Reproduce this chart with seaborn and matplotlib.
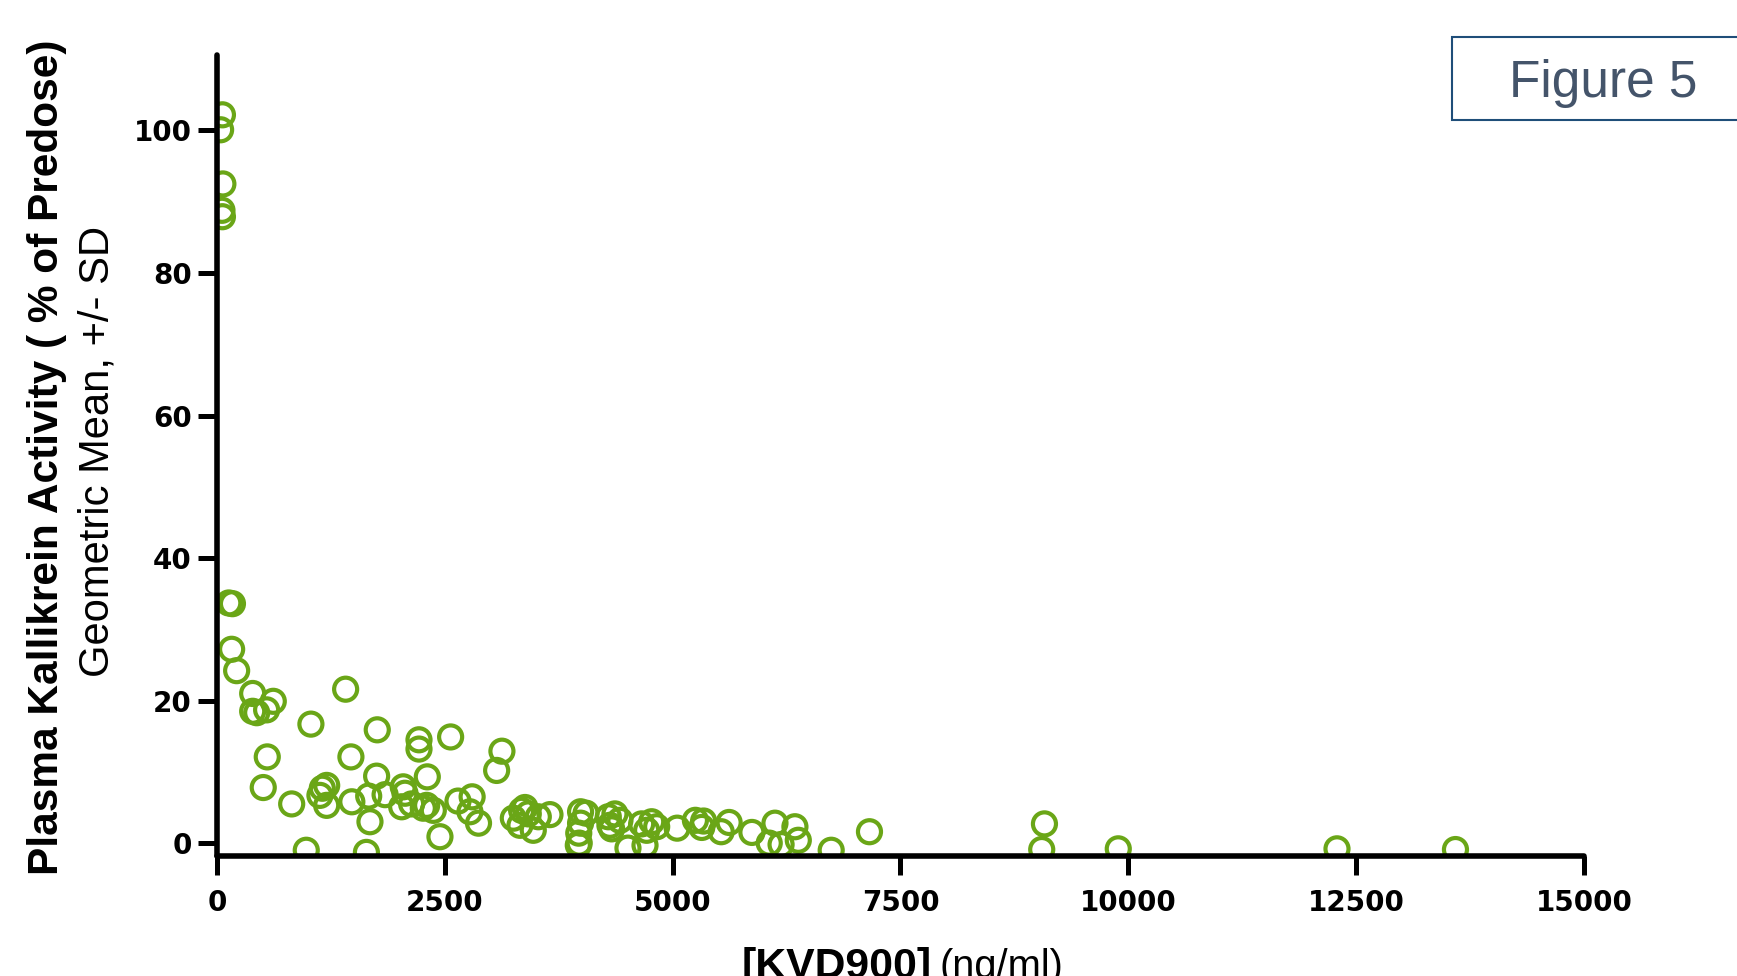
import matplotlib
matplotlib.use("Agg")
import matplotlib.pyplot as plt
from matplotlib import font_manager as fm
from matplotlib.patches import Rectangle
import seaborn as sns

# [KVD900] (ng/ml) vs plasma kallikrein activity (% of predose)
kvd900 = [60, 40, 65, 55, 60,
          130, 170, 161, 216, 392, 618, 392, 436, 545, 1412, 1031, 1759, 2217, 2217,
          2564, 3127, 3069, 552, 508, 820, 1470, 1752, 2308,
          1156, 1204, 1130, 1204, 1480, 1665, 1679, 1845,
          2044, 2063, 2027, 2136, 2301, 2374, 2264, 2447, 2645, 2800, 2776, 2870,
          980, 1640,
          3252, 3343, 3416, 3325, 3471, 3526, 3654, 3380,
          3990, 4050, 3990, 3970, 3975, 3965,
          4294, 4367, 4331, 4422, 4312, 4510,
          4660, 4770, 4715, 4825, 4697, 5050,
          5250, 5340, 5320, 5533, 5620, 5870,
          6060, 6123, 6190, 6342, 6379, 6740, 7160,
          9080, 9050, 9890, 12290, 13590]
activity = [102.2, 100.1, 92.5, 88.8, 87.9,
            33.7, 33.6, 27.2, 24.2, 21.0, 19.9, 18.5, 18.3, 18.7, 21.6, 16.7, 15.9, 14.5, 13.2,
            14.9, 12.9, 10.2, 12.1, 7.8, 5.5, 12.1, 9.4, 9.3,
            7.7, 8.1, 6.7, 5.3, 5.8, 6.6, 3.0, 6.8,
            7.9, 7.0, 5.1, 5.5, 5.3, 4.6, 4.9, 0.9, 5.9, 6.5, 4.4, 2.8,
            -1.0, -1.3,
            3.5, 4.6, 4.1, 2.5, 1.8, 3.7, 4.0, 5.0,
            4.4, 4.2, 2.8, 1.4, 0.0, -0.3,
            3.7, 4.1, 2.0, 3.2, 2.5, -0.7,
            2.7, 3.0, 1.8, 2.3, -0.3, 2.1,
            3.2, 3.1, 2.2, 1.6, 2.9, 1.5,
            0.0, 2.8, -0.2, 2.3, 0.4, -1.0, 1.6,
            2.7, -0.9, -0.8, -0.8, -0.9]

x_ticks = [0, 2500, 5000, 7500, 10000, 12500, 15000]
y_ticks = [0, 20, 40, 60, 80, 100]

green = "#6aa617"

sns.set_style("ticks")
names = {f.name for f in fm.fontManager.ttflist}
narrow = "Liberation Sans Narrow" if "Liberation Sans Narrow" in names else "Liberation Sans"
plt.rcParams["font.family"] = ["DejaVu Sans"]
plt.rcParams["text.color"] = "black"

fig = plt.figure(figsize=(17.37, 9.76), dpi=100)
ax = fig.add_axes([0.1249, 0.1230, 0.7870, 0.8207])

sns.scatterplot(x=kvd900, y=activity, ax=ax, marker="o", s=275,
                color=green, facecolor="none", edgecolor=green, linewidth=3.0)

ax.set_xlim(0, 15000)
ax.set_ylim(-1.8, 110.6)
ax.set_xticks(x_ticks)
ax.set_yticks(y_ticks)
ax.set_xticklabels([str(v) for v in x_ticks], fontsize=20, fontweight="bold")
ax.set_yticklabels([str(v) for v in y_ticks], fontsize=20, fontweight="bold")
ax.tick_params(axis="both", length=14, width=3.6, color="black", labelcolor="black",
               direction="out")
ax.tick_params(axis="x", pad=10)
ax.tick_params(axis="y", pad=4)
for t in ax.xaxis.get_ticklines() + ax.yaxis.get_ticklines():
    t.set_solid_capstyle("round")
sns.despine(ax=ax)
for side in ["left", "bottom"]:
    ax.spines[side].set_linewidth(4)
    ax.spines[side].set_color("black")
    ax.spines[side].set_capstyle("round")

# two-line y label
yl1 = fig.text(0.0268, 0.532, "Plasma Kallikrein Activity ( % of Predose)", rotation=90,
               ha="center", va="center", fontsize=32, fontweight="bold", family=[narrow])
yl2 = fig.text(0.0561, 0.537, "Geometric Mean, +/- SD", rotation=90,
               ha="center", va="center", fontsize=30, family=[narrow])
# x label, cut off at the bottom edge like the original slide
xl1 = fig.text(0.5362, -0.002, "[KVD900]", ha="right", va="baseline",
               fontsize=34, fontweight="bold", family=[narrow])
xl2 = fig.text(0.5406, -0.002, "(ng/ml)", ha="left", va="baseline",
               fontsize=34, family=[narrow])

# fit label lengths to the reference
fig.canvas.draw()
for t, length, vertical in [(yl1, 836, True), (yl2, 451, True), (xl1, 190, False), (xl2, 124, False)]:
    bb = t.get_window_extent()
    cur = bb.height if vertical else bb.width
    t.set_fontsize(t.get_fontsize() * length / cur)

# "Figure 5" box in the top right corner
fig.patches.append(Rectangle((0.8359, 0.8775), 0.2, 0.0851, transform=fig.transFigure,
                             facecolor="white", edgecolor="#1f4e79", linewidth=1.5))
fig.text(0.9229, 0.9009, "Figure 5", ha="center", va="baseline", fontsize=37,
         color="#44546a", family=["Liberation Sans"])

fig.savefig("out.png", dpi=100)
